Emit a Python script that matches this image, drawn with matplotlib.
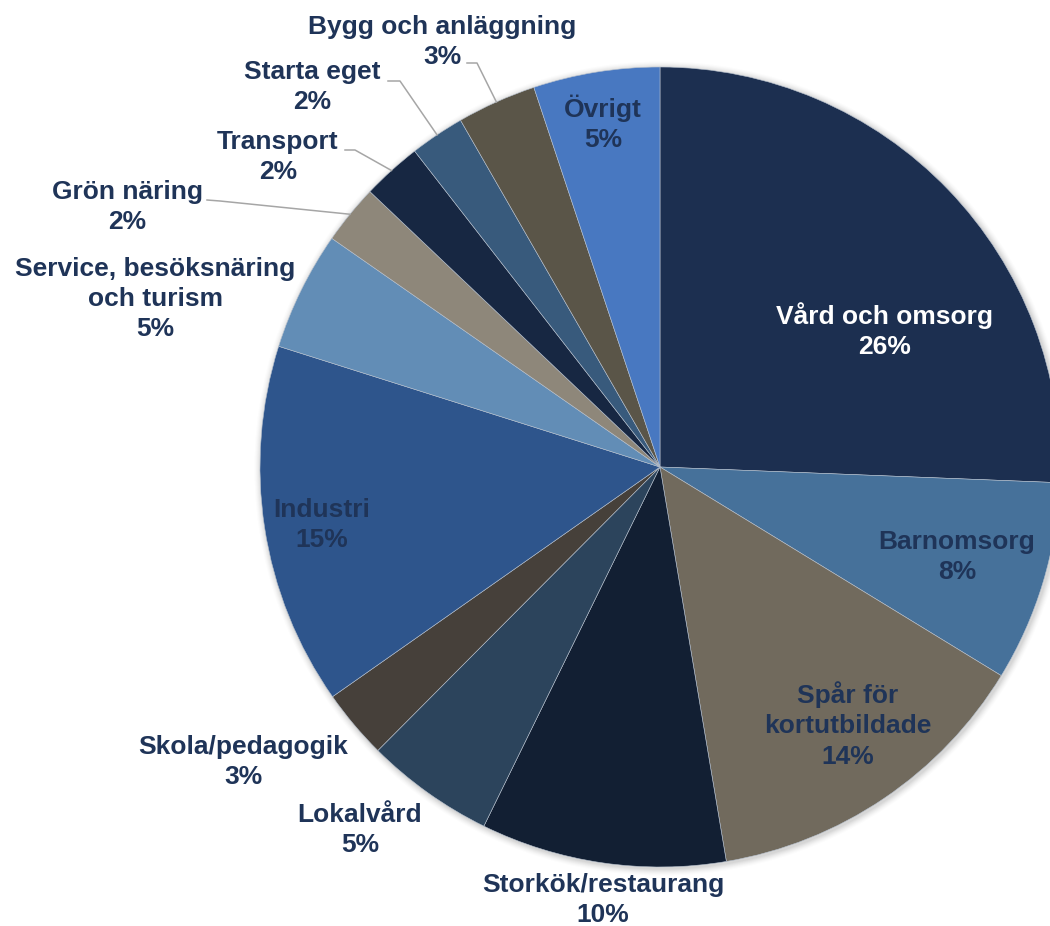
import numpy as np
import matplotlib.pyplot as plt
from matplotlib.patches import Circle

# Data: share per category (percent), clockwise from 12 o'clock
categories = ['Vård och omsorg', 'Barnomsorg', 'Spår för\nkortutbildade', 'Storkök/restaurang',
              'Lokalvård', 'Skola/pedagogik', 'Industri', 'Service, besöksnäring\noch turism',
              'Grön näring', 'Transport', 'Starta eget', 'Bygg och anläggning', 'Övrigt']
values = [25.6, 8.1, 13.6, 9.9, 5.2, 2.8, 14.6, 4.8, 2.4, 2.4, 2.2, 3.2, 5.1]

colors = ['#1c2f50', '#46719a', '#716a5d', '#121f33', '#2c445c', '#46403a', '#2e558c',
          '#628db6', '#8e877a', '#172742', '#385a7c', '#5a5548', '#4878c1']

W, H = 1050, 926
CX, CY, R = 660, 467, 400   # pie centre / radius in image pixels
TXT = '#1f3458'

def img(x, y):
    # image pixel -> data coords (y up)
    return x, H - y

# label block centres in image pixels
label_pos = {
    'Vård och omsorg': (885, 331), 'Barnomsorg': (957, 557), 'Spår för\nkortutbildade': (848, 725),
    'Storkök/restaurang': (603, 900), 'Lokalvård': (360, 830), 'Skola/pedagogik': (243, 762),
    'Industri': (322, 525), 'Service, besöksnäring\noch turism': (155, 299), 'Grön näring': (127, 207),
    'Transport': (278, 157), 'Starta eget': (312, 87), 'Bygg och anläggning': (442, 42), 'Övrigt': (603, 123),
}
# leader lines: start of line and elbow (image px); end is computed on the wedge
leaders = {
    'Bygg och anläggning': [(467, 63), (477, 63)],
    'Starta eget': [(388, 81), (400, 81)],
    'Transport': [(345, 150), (355, 150)],
    'Grön näring': [(207, 200), (220, 201)],
}

fig = plt.figure(figsize=(W / 100, H / 100), dpi=100)
ax = fig.add_axes([0, 0, 1, 1])

# soft shadow round the pie
cx, cy = img(CX, CY)
for k, a in zip(range(7, 0, -1), [0.02, 0.03, 0.04, 0.05, 0.06, 0.07, 0.08]):
    ax.add_patch(Circle((cx + 1.5, cy - 1.5), R + k, color='#7f7f7f', alpha=a, lw=0, zorder=0))

wedges, _ = ax.pie(values, colors=colors, startangle=90, counterclock=False,
                   center=(cx, cy), radius=R,
                   wedgeprops=dict(edgecolor='#b8c2cf', linewidth=0.4))

total = sum(values)
for w, cat, v in zip(wedges, categories, values):
    txt = f'{cat}\n{v / total * 100:.0f}%'
    x, y = img(*label_pos[cat])
    col = 'white' if cat == 'Vård och omsorg' else TXT
    ax.text(x, y, txt, ha='center', va='center', fontsize=19, fontweight='bold',
            family='Liberation Sans', color=col, linespacing=1.32)
    if cat in leaders:
        mid = np.deg2rad((w.theta1 + w.theta2) / 2)
        end = (cx + R * np.cos(mid), cy + R * np.sin(mid))
        pts = [img(*p) for p in leaders[cat]] + [end]
        xs, ys = zip(*pts)
        ax.plot(xs, ys, color='#a6a6a6', lw=1.1, zorder=3)

ax.set_xlim(0, W)
ax.set_ylim(0, H)
ax.set_aspect('equal')
ax.axis('off')

fig.savefig('out.png', dpi=100, facecolor='white')
